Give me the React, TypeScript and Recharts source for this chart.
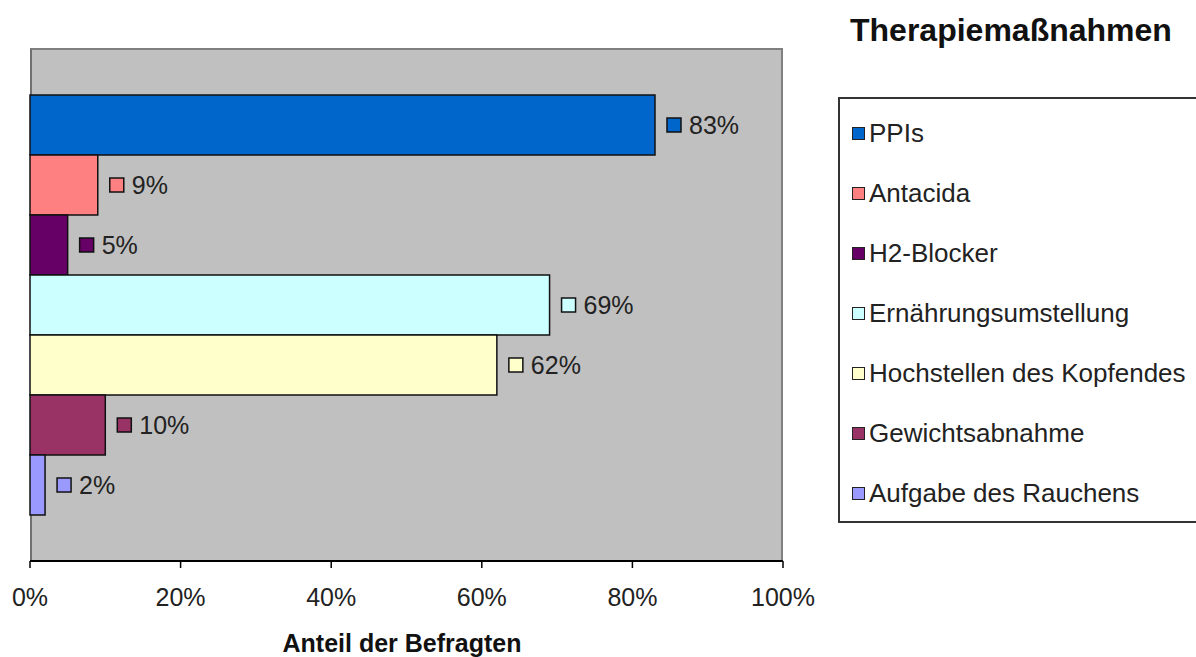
import React from 'react';
import { BarChart, Bar, XAxis, YAxis, LabelList } from 'recharts';

const categories = ['Therapiemaßnahmen'];
const seriesNames = [
  'PPIs',
  'Antacida',
  'H2-Blocker',
  'Ernährungsumstellung',
  'Hochstellen des Kopfendes',
  'Gewichtsabnahme',
  'Aufgabe des Rauchens',
];
const seriesValues = [83, 9, 5, 69, 62, 10, 2];
const seriesColors = ['#0066CC', '#FF8080', '#660066', '#CCFFFF', '#FFFFCC', '#993366', '#9999FF'];
const xTicks = [0, 20, 40, 60, 80, 100];
const chartTitle = 'Therapiemaßnahmen';
const xAxisTitle = 'Anteil der Befragten';

const data = categories.map((c) => {
  const row: Record<string, any> = { cat: c };
  seriesNames.forEach((n, i) => {
    row[n] = seriesValues[i];
  });
  return row;
});

const FONT = '"Liberation Sans", Arial, Helvetica, sans-serif';

const makeLabel = (color: string) => (props: any) => {
  const { x, y, width, height, value } = props;
  const end = Number(x) + Number(width);
  const cy = Number(y) + Number(height) / 2;
  return (
    <g>
      <rect x={end + 12} y={cy - 7} width={14} height={14} fill={color} stroke="#111" strokeWidth={1.5} />
      <text x={end + 34} y={cy} dominantBaseline="central" fontSize={25} fontFamily={FONT} fill="#222">
        {`${value}%`}
      </text>
    </g>
  );
};

export default function App() {
  return (
    <div style={{ position: 'absolute', left: 0, top: 0, width: 1196, height: 657, background: '#fff', overflow: 'hidden' }}>
      <div
        style={{
          position: 'absolute',
          left: 30,
          top: 48,
          width: 753,
          height: 513,
          background: '#C0C0C0',
          boxSizing: 'border-box',
          borderTop: '2px solid #808080',
          borderLeft: '2px solid #707070',
          borderRight: '2px solid #808080',
        }}
      />
      <div style={{ position: 'absolute', left: 0, top: 0 }}>
        <BarChart
          width={1196}
          height={657}
          data={data}
          layout="vertical"
          margin={{ top: 48, left: 30, right: 413, bottom: 36 }}
          barGap={0}
          barCategoryGap={46}
        >
          <XAxis
            type="number"
            domain={[0, 100]}
            ticks={xTicks}
            tickFormatter={(v: number) => `${v}%`}
            height={60}
            axisLine={{ stroke: '#000', strokeWidth: 2 }}
            tickLine={{ stroke: '#000', strokeWidth: 1.5 }}
            tickSize={7}
            tickMargin={20}
            tick={{ fontSize: 25, fontFamily: FONT, fill: '#222' }}
            interval={0}
          />
          <YAxis type="category" dataKey="cat" hide width={0} />
          {seriesNames.map((n, i) => (
            <Bar
              key={n}
              dataKey={n}
              name={n}
              fill={seriesColors[i]}
              stroke="#111"
              strokeWidth={1.5}
              barSize={60}
              isAnimationActive={false}
            >
              <LabelList dataKey={n} content={makeLabel(seriesColors[i])} />
            </Bar>
          ))}
        </BarChart>
      </div>
      <div
        style={{
          position: 'absolute',
          left: 850,
          top: 10,
          fontFamily: FONT,
          fontWeight: 'bold',
          fontSize: 32,
          color: '#111',
          lineHeight: '40px',
          whiteSpace: 'nowrap',
        }}
      >
        {chartTitle}
      </div>
      <div
        style={{
          position: 'absolute',
          left: 202,
          width: 400,
          textAlign: 'center',
          top: 628,
          fontFamily: FONT,
          fontWeight: 'bold',
          fontSize: 25,
          color: '#111',
          lineHeight: '30px',
          whiteSpace: 'nowrap',
        }}
      >
        {xAxisTitle}
      </div>
      <div
        style={{
          position: 'absolute',
          left: 838,
          top: 97,
          width: 380,
          height: 426,
          boxSizing: 'border-box',
          border: '2px solid #333',
          background: '#fff',
          paddingTop: 4,
        }}
      >
        {seriesNames.map((n, i) => (
          <div key={n} style={{ height: 60, display: 'flex', alignItems: 'center', whiteSpace: 'nowrap' }}>
            <span
              style={{
                display: 'inline-block',
                width: 11,
                height: 11,
                marginLeft: 12,
                marginRight: 4,
                background: seriesColors[i],
                border: '1px solid #222',
              }}
            />
            <span style={{ fontFamily: FONT, fontSize: 26, color: '#222' }}>{n}</span>
          </div>
        ))}
      </div>
    </div>
  );
}
